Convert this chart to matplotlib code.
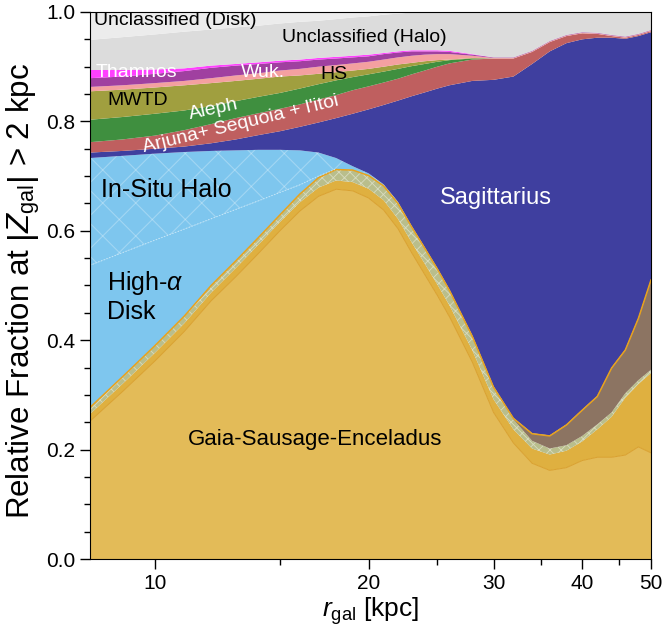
import numpy as np
import matplotlib
matplotlib.use("Agg")
import matplotlib.pyplot as plt
from matplotlib.ticker import FixedLocator, FixedFormatter, NullFormatter, MultipleLocator, FormatStrFormatter

plt.rcParams['font.family'] = ['Liberation Sans', 'DejaVu Sans']
plt.rcParams['mathtext.fontset'] = 'custom'
plt.rcParams['mathtext.rm'] = 'Liberation Sans'
plt.rcParams['mathtext.it'] = 'Liberation Sans:italic'
plt.rcParams['hatch.linewidth'] = 0.6

# galactocentric radius samples [kpc]
r_gal = [8.1, 9, 10, 11, 12, 13, 14, 15, 16, 17, 18, 19, 20, 21, 22, 23, 24, 25, 26,
         28, 30, 32, 34, 36, 38, 40, 42, 44, 46, 48, 50]

# relative fractions of each population (stacked bottom -> top)
gse = [0.252, 0.306, 0.362, 0.416, 0.472, 0.516, 0.559, 0.600, 0.636, 0.663, 0.676, 0.673,
       0.660, 0.638, 0.604, 0.560, 0.520, 0.482, 0.443, 0.360, 0.268, 0.212, 0.175, 0.162,
       0.167, 0.180, 0.186, 0.186, 0.190, 0.205, 0.194]
gse_dark = [0.013, 0.014, 0.015, 0.015, 0.015, 0.016, 0.016, 0.016, 0.016, 0.016, 0.016, 0.016,
            0.017, 0.018, 0.018, 0.019, 0.020, 0.020, 0.021, 0.022, 0.024, 0.025, 0.027, 0.029,
            0.031, 0.035, 0.051, 0.074, 0.105, 0.115, 0.146]
gse_edge = [0.012, 0.013, 0.013, 0.013, 0.013, 0.013, 0.013, 0.013, 0.015, 0.018, 0.020, 0.022,
            0.024, 0.026, 0.028, 0.028, 0.028, 0.028, 0.027, 0.025, 0.022, 0.018, 0.014, 0.011,
            0.010, 0.010, 0.009, 0.008, 0.008, 0.007, 0.006]
sgr_trail = [0, 0, 0, 0, 0, 0, 0, 0, 0, 0, 0, 0, 0, 0, 0, 0, 0, 0, 0, 0, 0,
             0.002, 0.013, 0.023, 0.037, 0.047, 0.051, 0.081, 0.079, 0.113, 0.164]
high_alpha = [0.260, 0.227, 0.193, 0.159, 0.122, 0.094, 0.067, 0.041, 0.017, 0.003, 0.001,
              0, 0, 0, 0, 0, 0, 0, 0, 0, 0, 0, 0, 0, 0, 0, 0, 0, 0, 0, 0]
in_situ = [0.196, 0.177, 0.158, 0.141, 0.124, 0.108, 0.093, 0.078, 0.063, 0.043, 0.020, 0.007,
           0.004, 0.003, 0.003, 0.002, 0.002, 0.002, 0.002, 0.002, 0.002, 0.001, 0.001, 0.001,
           0.001, 0.001, 0.001, 0.001, 0.001, 0.001, 0.001]
sgr = [0.010, 0.009, 0.009, 0.010, 0.014, 0.020, 0.027, 0.034, 0.043, 0.055, 0.073, 0.096,
       0.117, 0.145, 0.185, 0.237, 0.283, 0.328, 0.373, 0.465, 0.560, 0.624, 0.675, 0.702,
       0.697, 0.677, 0.655, 0.603, 0.568, 0.515, 0.452]
arjuna = [0.019, 0.021, 0.024, 0.030, 0.035, 0.039, 0.040, 0.041, 0.041, 0.042, 0.042, 0.043,
          0.042, 0.041, 0.040, 0.040, 0.040, 0.040, 0.040, 0.039, 0.039, 0.033, 0.022, 0.017,
          0.013, 0.011, 0.007, 0.003, 0.002, 0.002, 0.002]
aleph = [0.041, 0.041, 0.040, 0.036, 0.033, 0.031, 0.030, 0.029, 0.029, 0.028, 0.027, 0.024,
         0.022, 0.020, 0.018, 0.015, 0.012, 0.009, 0.006, 0.002, 0, 0, 0, 0, 0, 0, 0, 0, 0, 0, 0]
mwtd = [0.052, 0.050, 0.048, 0.046, 0.042, 0.037, 0.033, 0.030, 0.024, 0.019, 0.015, 0.012,
        0.010, 0.009, 0.008, 0.006, 0.005, 0.003, 0.001, 0.001, 0, 0, 0, 0, 0, 0, 0, 0, 0, 0, 0]
hs = [0.008, 0.008, 0.008, 0.008, 0.009, 0.010, 0.010, 0.011, 0.012, 0.013, 0.013, 0.013,
      0.013, 0.013, 0.013, 0.013, 0.012, 0.011, 0.010, 0.004, 0.001, 0.001, 0.001, 0.001,
      0.001, 0.001, 0.001, 0.001, 0.001, 0.001, 0.001]
wukong = [0.016, 0.016, 0.017, 0.018, 0.019, 0.018, 0.017, 0.015, 0.014, 0.013, 0.012, 0.011,
          0.010, 0.010, 0.009, 0.008, 0.006, 0.005, 0.004, 0.002, 0.001, 0.001, 0.001, 0.001,
          0.001, 0.001, 0.001, 0.001, 0.001, 0.001, 0.001]
thamnos = [0.015, 0.012, 0.008, 0.005, 0.004, 0.003, 0.003, 0.003, 0.003, 0.003, 0.003, 0.003,
           0.003, 0.002, 0.002, 0.002, 0.002, 0.002, 0.002, 0.001, 0, 0, 0, 0, 0, 0, 0, 0, 0, 0, 0]
uncl_halo = [0.055, 0.060, 0.064, 0.067, 0.066, 0.067, 0.067, 0.068, 0.069, 0.068, 0.069, 0.070,
             0.070, 0.070, 0.069, 0.069, 0.070, 0.070, 0.071, 0.077, 0.083, 0.083, 0.071, 0.053,
             0.042, 0.037, 0.038, 0.042, 0.045, 0.040, 0.033]
uncl_disk = [0.051, 0.046, 0.041, 0.036, 0.032, 0.028, 0.025, 0.021, 0.018, 0.016, 0.013, 0.010,
             0.008, 0.005, 0.003, 0.001, 0, 0, 0, 0, 0, 0, 0, 0, 0, 0, 0, 0, 0, 0, 0]

layers = [gse, gse_dark, gse_edge, sgr_trail, high_alpha, in_situ, sgr, arjuna, aleph,
          mwtd, hs, wukong, thamnos, uncl_halo, uncl_disk]
colors = ['#E3BB58', '#DFB040', '#B9BE8C', '#8C7462', '#7EC6EE', '#7EC6EE', '#3F3F9F',
          '#BF5F5F', '#3F8F3F', '#A09F3F', '#F4A0A0', '#A040A0', '#FF40FF', '#DCDCDC', '#ECECEC']

r = np.array(r_gal)
fig = plt.figure(figsize=(6.64, 6.31), dpi=100)
ax = fig.add_axes([0.1355, 0.1141, 0.8449, 0.8669])

base = np.zeros(len(r))
bounds = []
polys = []
for vals, col in zip(layers, colors):
    top = base + np.array(vals)
    p = ax.fill_between(r, base, top, facecolor=col, edgecolor='none', linewidth=0)
    polys.append(p)
    bounds.append((base.copy(), top.copy()))
    base = top

# fine hatch on the thin band above GSE
polys[2].set_hatch('xxx')
polys[2].set_edgecolor((1, 1, 1, 0.45))

# wide cross-hatch on the in-situ halo
clip = polys[5]
w_ax, h_ax = 561.0, 547.0
step = 33.0 / w_ax
for c in np.arange(-1.2, 1.2, step):
    for s in (1, -1):
        xs = np.array([c, c + 1.2])
        ys = s * (xs - c) * w_ax / h_ax
        if s == -1:
            ys = ys + 1.0
        ln, = ax.plot(xs, ys, transform=ax.transAxes, color='white', alpha=0.28, lw=0.8)
        ln.set_clip_path(clip.get_paths()[0], ax.transData)

# edge lines
gse_top = bounds[0][1]
ax.plot(r, gse_top, color='#D9A02E', lw=0.7)
grp_top = bounds[3][1]
ax.plot(r, grp_top, color='#E8A21C', lw=1.1)
ha_top = bounds[4][1]
mask = np.array(high_alpha) > 0
ax.plot(r[mask], ha_top[mask], color='#C4E6F8', lw=0.8, ls=':')

ax.set_xscale('log')
ax.set_xlim(8.1, 50)
ax.set_ylim(0, 1)
ax.xaxis.set_major_locator(FixedLocator([10, 20, 30, 40, 50]))
ax.xaxis.set_major_formatter(FixedFormatter(['10', '20', '30', '40', '50']))
ax.xaxis.set_minor_locator(FixedLocator([15, 25, 35, 45]))
ax.xaxis.set_minor_formatter(NullFormatter())
ax.yaxis.set_major_locator(MultipleLocator(0.2))
ax.yaxis.set_minor_locator(MultipleLocator(0.05))
ax.yaxis.set_major_formatter(FormatStrFormatter('%.1f'))
ax.tick_params(which='major', length=7, width=1.0, labelsize=15, direction='out')
ax.tick_params(which='minor', length=4, width=1.0, direction='out')

ax.set_xlabel(r'$r_\mathrm{gal}$ [kpc]', fontsize=19, labelpad=2)
ax.set_ylabel(r'Relative Fraction at $\left|Z_\mathrm{gal}\right|$ > 2 kpc', fontsize=22.5)
ax.yaxis.set_label_coords(-0.086, 0.49)

ax.text(8.2, 0.985, 'Unclassified (Disk)', fontsize=14, va='center', ha='left')
ax.text(15.1, 0.954, 'Unclassified (Halo)', fontsize=14, va='center', ha='left')
ax.text(8.25, 0.889, 'Thamnos', fontsize=14, color='white', va='center', ha='left')
ax.text(13.2, 0.889, 'Wuk.', fontsize=14, color='white', va='center', ha='left')
ax.text(17.1, 0.886, 'HS', fontsize=14, va='center', ha='left')
ax.text(8.56, 0.839, 'MWTD', fontsize=14, va='center', ha='left')
ax.text(12.1, 0.822, 'Aleph', fontsize=14, color='white', va='center', ha='center', rotation=12)
ax.text(13.2, 0.795, "Arjuna+ Sequoia + l'itoi", fontsize=14, color='white',
        va='center', ha='center', rotation=13.5)
ax.text(8.4, 0.675, 'In-Situ Halo', fontsize=18, va='center', ha='left')
ax.text(8.56, 0.48, 'High-$\\alpha$\nDisk', fontsize=18, va='center', ha='left', linespacing=1.2)
ax.text(30.2, 0.66, 'Sagittarius', fontsize=17, color='white', va='center', ha='center')
ax.text(16.8, 0.218, 'Gaia-Sausage-Enceladus', fontsize=16, va='center', ha='center')

fig.savefig('out.png', dpi=100)
